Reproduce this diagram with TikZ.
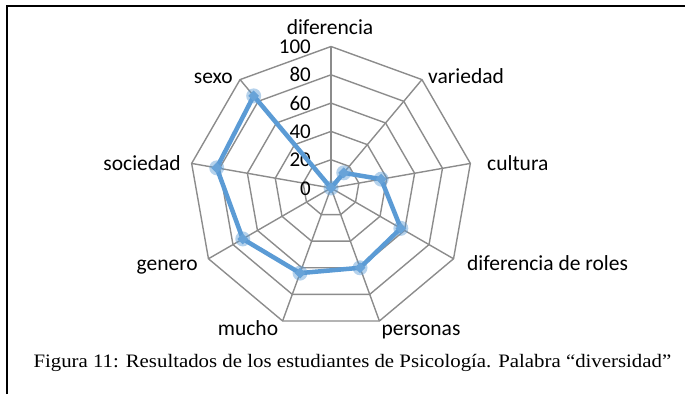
\documentclass[tikz,border=0pt]{standalone}
\usepackage{fontspec}
\setmainfont{Liberation Serif}
\newfontfamily\chartfont{Carlito}
\usetikzlibrary{shapes.geometric}
\definecolor{gridgray}{RGB}{140,140,140}
\definecolor{serieblue}{RGB}{91,155,213}
\tikzset{
  gridline/.style={draw=gridgray, line width=1.4pt, line join=round},
  axislabel/.style={font=\chartfont\fontsize{21.5}{25}\selectfont, inner sep=0pt, text=black},
  ticklabel/.style={font=\chartfont\fontsize{21}{25}\selectfont, inner sep=0pt, anchor=base east},
  serieline/.style={draw=serieblue, line width=4.5pt, line join=round},
  seriehalo/.style={circle, fill=serieblue, fill opacity=0.45, minimum size=15pt, inner sep=0pt},
  seriemark/.style={diamond, fill=serieblue!92!white, minimum size=11pt, inner sep=0pt},
  framerule/.style={draw=black, line width=2pt}
}
\begin{document}
\begin{tikzpicture}[x=1pt,y=1pt]
\useasboundingbox (0,-394) rectangle (685,0);
\draw[framerule] (6.5,-394) -- (6.5,-5.5) -- (685,-5.5);
\begin{scope}[shift={(331,-188)}]
  % rings
  \foreach \k in {1,...,5}{
    \draw[gridline] (90:\k*28.3) \foreach \i in {1,...,8}{ -- (90-\i*40:\k*28.3)} -- cycle;
  }
  % spokes
  \foreach \i in {0,...,8}{
    \draw[gridline] (0,0) -- (90-\i*40:141.5);
  }
  % tick labels
  \foreach \v/\k in {0/0,20/1,40/2,60/3,80/4,100/5}{
    \node[ticklabel] (t\v) at (-20,{-7+\k*28.3}) {\v};
  }
  % data
  \coordinate (p0) at (90:0.01);
  \coordinate (p1) at (90-40:{14*1.415});
  \coordinate (p2) at (90-80:{36*1.415});
  \coordinate (p3) at (90-120:{57*1.415});
  \coordinate (p4) at (90-160:{60*1.415});
  \coordinate (p5) at (90-200:{64*1.415});
  \coordinate (p6) at (90-240:{72*1.415});
  \coordinate (p7) at (90-280:{82*1.415});
  \coordinate (p8) at (90-320:{85*1.415});
  \draw[serieline] (p0) -- (p1) -- (p2) -- (p3) -- (p4) -- (p5) -- (p6) -- (p7) -- (p8) -- cycle;
  \foreach \i in {0,...,8}{
    \node[seriehalo] (h\i) at (p\i) {};
    \node[seriemark] (m\i) at (p\i) {};
  }
\end{scope}
% axis labels (positions in image pixels)
\node[axislabel, anchor=base] (lab0) at (330,-34.5) {diferencia};
\node[axislabel, anchor=base west] (lab1) at (428,-83) {variedad};
\node[axislabel, anchor=base west] (lab2) at (487,-170) {cultura};
\node[axislabel, anchor=base west] (lab3) at (467,-270) {diferencia de roles};
\node[axislabel, anchor=base] (lab4) at (421,-335) {personas};
\node[axislabel, anchor=base] (lab5) at (248,-335) {mucho};
\node[axislabel, anchor=base east] (lab6) at (198,-270) {genero};
\node[axislabel, anchor=base east] (lab7) at (181,-170) {sociedad};
\node[axislabel, anchor=base east] (lab8) at (233,-83) {sexo};
% caption
\node[font=\fontsize{19}{22}\selectfont, inner sep=0pt, anchor=base west] (caption) at (33.3,-367.3)
  {\scalebox{1.096}[1]{Figura 11: Resultados de los estudiantes de Psicología. Palabra “diversidad”}};
\end{tikzpicture}
\end{document}
